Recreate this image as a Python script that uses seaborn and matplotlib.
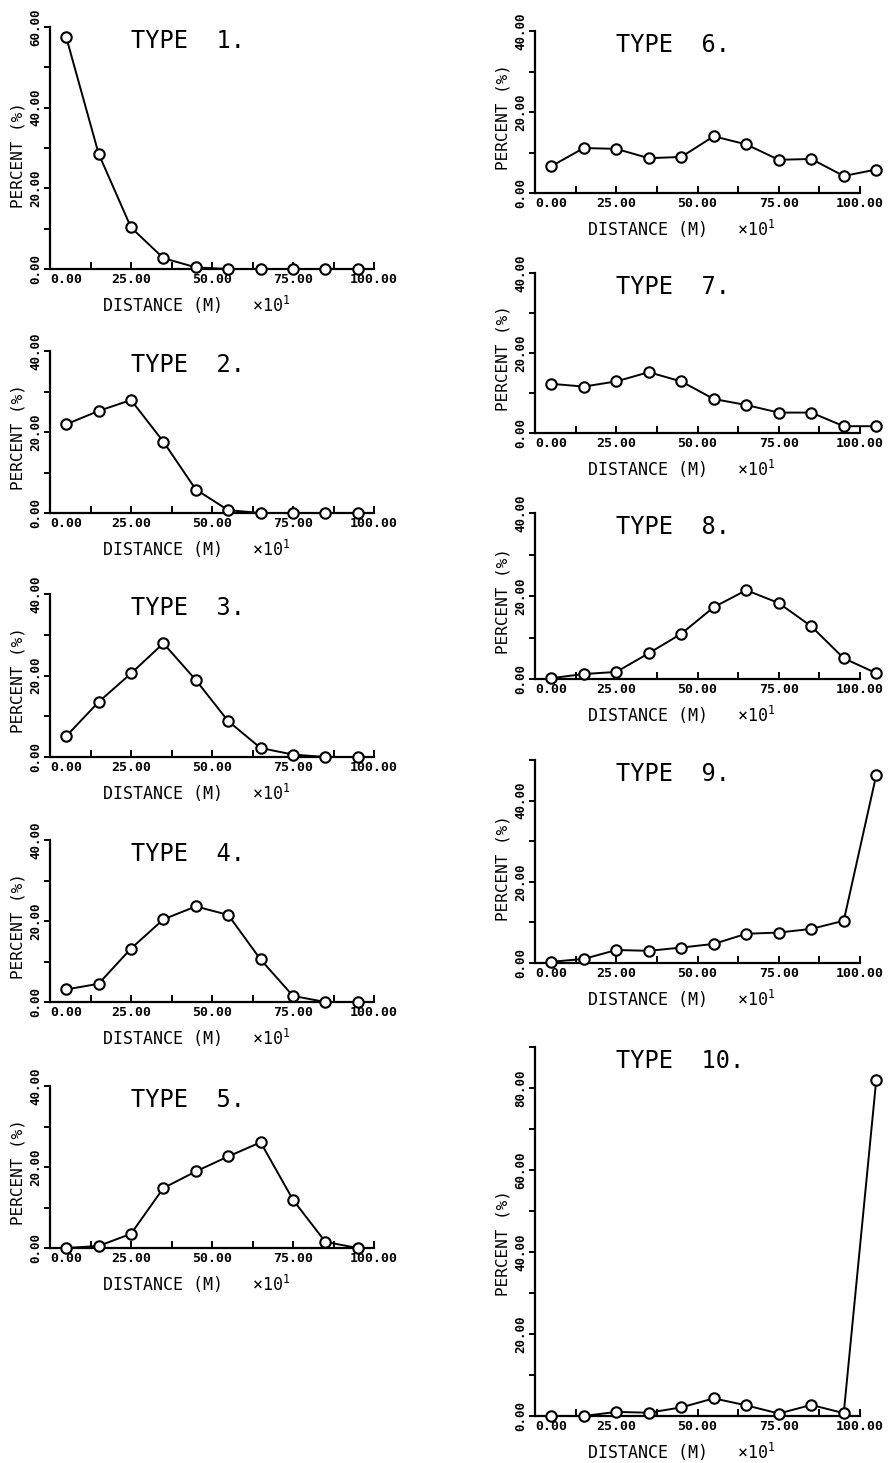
import matplotlib
matplotlib.use("Agg")
import matplotlib.pyplot as plt
import seaborn as sns
import pandas as pd
from matplotlib.ticker import FixedLocator, FormatStrFormatter

# Distance class midpoints (x10 m)
dist_left = [5, 15, 25, 35, 45, 55, 65, 75, 85, 95]
dist_right = [5, 15, 25, 35, 45, 55, 65, 75, 85, 95, 105]

# Percent of observations per distance class, by type
type1 = [57.5, 28.6, 10.3, 2.7, 0.4, 0.0, 0.0, 0.0, 0.0, 0.0]
type2 = [21.9, 25.2, 27.9, 17.6, 5.8, 0.7, 0.0, 0.0, 0.0, 0.0]
type3 = [5.1, 13.5, 20.5, 27.9, 18.9, 8.8, 2.2, 0.6, 0.0, 0.0]
type4 = [3.1, 4.5, 13.2, 20.4, 23.6, 21.5, 10.5, 1.5, 0.0, 0.0]
type5 = [0.0, 0.5, 3.5, 14.8, 18.9, 22.6, 26.1, 11.9, 1.5, 0.0]
type6 = [6.6, 11.1, 10.9, 8.6, 8.9, 14.0, 12.0, 8.2, 8.4, 4.2, 5.8]
type7 = [12.3, 11.6, 12.9, 15.2, 12.9, 8.5, 7.0, 5.1, 5.1, 1.7, 1.7]
type8 = [0.2, 1.2, 1.7, 6.2, 10.9, 17.3, 21.4, 18.3, 12.7, 5.0, 1.4]
type9 = [0.3, 1.0, 3.2, 3.0, 3.8, 4.7, 7.2, 7.5, 8.4, 10.4, 46.3]
type10 = [0.0, 0.0, 1.0, 0.8, 2.1, 4.3, 2.6, 0.6, 2.7, 0.7, 82.0]

type_names = ["1", "2", "3", "4", "5", "6", "7", "8", "9", "10"]
y_max = [60, 40, 40, 40, 40, 40, 40, 40, 50, 90]

x_major = [0, 25, 50, 75, 100]
x_minor = [12.5, 37.5, 62.5, 87.5]

sns.set_style("ticks")
plt.rcParams["font.family"] = ["DejaVu Sans Mono", "DejaVu Sans"]
plt.rcParams["mathtext.fontset"] = "custom"
plt.rcParams["mathtext.rm"] = "DejaVu Sans Mono"

W, H = 894, 1463
fig = plt.figure(figsize=(W / 100, H / 100), dpi=100)
fig.patch.set_facecolor("white")

# panel frames in pixels: (left, right, top, bottom)
frames = [
    (50, 374, 27, 269),
    (50, 374, 351, 513),
    (50, 374, 594, 757),
    (50, 374, 840, 1002),
    (50, 374, 1086, 1248),
    (535, 860, 31, 193),
    (535, 860, 273, 433),
    (535, 860, 513, 679),
    (535, 860, 760, 963),
    (535, 860, 1047, 1416),
]

series = [type1, type2, type3, type4, type5, type6, type7, type8, type9, type10]

for i, (vals, name, ymax, fr) in enumerate(zip(series, type_names, y_max, frames)):
    xl, xr, top, bottom = fr
    ax = fig.add_axes([xl / W, 1 - bottom / H, (xr - xl) / W, (bottom - top) / H])
    dist = dist_left if i < 5 else dist_right
    df = pd.DataFrame({"distance": dist, "percent": vals})
    sns.lineplot(data=df, x="distance", y="percent", ax=ax, color="black",
                 linewidth=1.4, marker="o", markersize=7.5,
                 markerfacecolor="white", markeredgecolor="black",
                 markeredgewidth=1.5, clip_on=False, zorder=5)

    ax.set_xlim(0, 100)
    ax.set_ylim(0, ymax)
    sns.despine(ax=ax)
    for s in ("left", "bottom"):
        ax.spines[s].set_linewidth(1.6)
        ax.spines[s].set_color("black")

    ax.xaxis.set_major_locator(FixedLocator(x_major))
    ax.xaxis.set_minor_locator(FixedLocator(x_minor))
    ax.xaxis.set_major_formatter(FormatStrFormatter("%.2f"))
    ax.yaxis.set_major_locator(FixedLocator(list(range(0, ymax + 1, 20))))
    ax.yaxis.set_minor_locator(FixedLocator(list(range(10, ymax + 1, 20))))
    ax.yaxis.set_major_formatter(FormatStrFormatter("%.2f"))

    ax.tick_params(axis="x", which="both", direction="in", length=5, width=1.4,
                   pad=3, labelsize=9.5, colors="black")
    ax.tick_params(axis="y", which="both", direction="out", length=4, width=1.4,
                   pad=1.5, labelsize=9, colors="black")
    for lab in ax.get_yticklabels():
        lab.set_rotation(90)
        lab.set_va("center")
        lab.set_fontweight("bold")
    xlabs = ax.get_xticklabels()
    for lab in xlabs:
        lab.set_fontweight("bold")
    xlabs[0].set_ha("left")

    ax.set_xlabel("")
    ax.set_ylabel("")

    ax.annotate(f"TYPE  {name}.", xy=(25, 1), xycoords=("data", "axes fraction"),
                xytext=(0, -14), textcoords="offset pixels",
                ha="left", va="center", fontsize=17, color="black")
    ax.annotate("DISTANCE (M)   ×10$^{1}$", xy=(16, 0),
                xycoords=("data", "axes fraction"),
                xytext=(0, -36), textcoords="offset pixels",
                ha="left", va="center", fontsize=12, color="black")
    ax.annotate("PERCENT (%)", xy=(0, 0.47), xycoords="axes fraction",
                xytext=(-32, 0), textcoords="offset pixels",
                ha="center", va="center", rotation=90, fontsize=11.5,
                color="black")

fig.savefig("out.png", dpi=100, facecolor="white")
